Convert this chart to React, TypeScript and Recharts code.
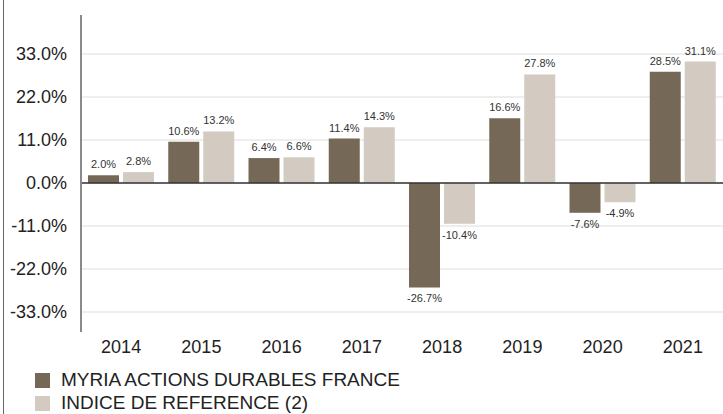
import { BarChart, Bar, XAxis, YAxis, CartesianGrid, ReferenceLine, LabelList } from "recharts";

const years = ["2014", "2015", "2016", "2017", "2018", "2019", "2020", "2021"];
const fundValues = [2.0, 10.6, 6.4, 11.4, -26.7, 16.6, -7.6, 28.5];
const indexValues = [2.8, 13.2, 6.6, 14.3, -10.4, 27.8, -4.9, 31.1];
const yTicks = [-33, -22, -11, 0, 11, 22, 33];
const Y_MIN = -38.1;
const Y_MAX = 43;

const FUND_NAME = "MYRIA ACTIONS DURABLES FRANCE";
const INDEX_NAME = "INDICE DE REFERENCE (2)";
const DARK = "#756856";
const LIGHT = "#d3cac1";

const data = years.map((y, i) => ({ year: y, fund: fundValues[i], index: indexValues[i] }));

const pct = (v: number) => `${Number(v).toFixed(1)}%`;
const FONT = "'Liberation Sans', Arial, sans-serif";

// grid only at the labelled ticks
const gridRows = ({ yAxis, offset }: any) => {
  if (yAxis && typeof yAxis.scale === "function") return yTicks.map((t) => yAxis.scale(t));
  return yTicks.map((t) => offset.top + (offset.height * (Y_MAX - t)) / (Y_MAX - Y_MIN));
};

export default function App() {
  return (
    <div style={{ position: "fixed", left: 0, top: 0, width: 723, height: 414, background: "#fff", overflow: "hidden", fontFamily: FONT }}>
      <div style={{ position: "absolute", left: 3, top: 0, width: 1, height: 414, background: "#666" }} />
      <BarChart
        width={723}
        height={360}
        data={data}
        margin={{ top: 15, right: 0, left: 0, bottom: 0 }}
        barSize={31}
        barGap={4}
        accessibilityLayer={false}
        style={{ outline: "none" }}
      >
        <CartesianGrid vertical={false} stroke="#e9e9e9" strokeWidth={1.5} horizontalCoordinatesGenerator={gridRows} />
        <XAxis
          dataKey="year"
          height={28}
          axisLine={false}
          tickLine={false}
          tick={{ fill: "#222", fontSize: 18, fontFamily: FONT }}
        />
        <YAxis
          width={81}
          domain={[Y_MIN, Y_MAX]}
          ticks={yTicks}
          tickFormatter={pct}
          axisLine={{ stroke: "#8a8a8a", strokeWidth: 2 }}
          tickLine={false}
          tickMargin={8}
          tick={{ fill: "#222", fontSize: 18, fontFamily: FONT }}
        />
        <ReferenceLine y={0} stroke="#333" strokeWidth={1.5} />
        <Bar dataKey="fund" name={FUND_NAME} fill={DARK} isAnimationActive={false}>
          <LabelList dataKey="fund" position="top" offset={7} formatter={pct} style={{ fill: "#333", fontSize: 11, fontFamily: FONT }} />
        </Bar>
        <Bar dataKey="index" name={INDEX_NAME} fill={LIGHT} isAnimationActive={false}>
          <LabelList dataKey="index" position="top" offset={7} formatter={pct} style={{ fill: "#333", fontSize: 11, fontFamily: FONT }} />
        </Bar>
      </BarChart>
      {[{ name: FUND_NAME, color: DARK }, { name: INDEX_NAME, color: LIGHT }].map((s, i) => (
        <div key={s.name} style={{ position: "absolute", left: 35, top: 370 + i * 23, height: 20, display: "flex", alignItems: "center", fontSize: 19, color: "#222" }}>
          <span style={{ width: 15, height: 15, background: s.color, marginRight: 11, display: "inline-block" }} />
          {s.name}
        </div>
      ))}
    </div>
  );
}
